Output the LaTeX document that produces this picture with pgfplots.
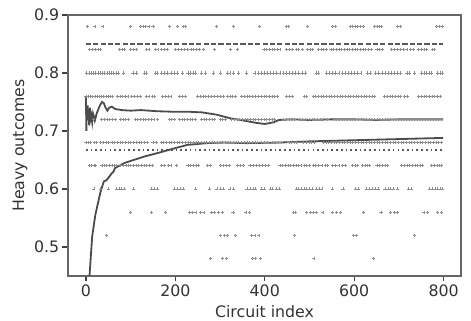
\documentclass[border=0pt]{standalone}
\usepackage{pgfplots}
\pgfplotsset{compat=1.18}
\usepackage{fontspec}
\setmainfont{DejaVu Sans}
\pgfplotsset{dots/.style={only marks, mark=+, mark size=1.1bp, color=black!45, mark options={line width=0.5bp}}}
\begin{document}
\begin{tikzpicture}
\path[use as bounding box] (-49bp,-32.4bp) rectangle (290.2bp,198.7bp);
\begin{axis}[
  scale only axis, width=283bp, height=187.9bp,
  xmin=-40, xmax=839, ymin=0.45, ymax=0.9,
  xtick={0,200,400,600,800}, ytick={0.5,0.6,0.7,0.8,0.9},
  yticklabel style={/pgf/number format/.cd, fixed, precision=1, fixed zerofill},
  /pgf/number format/assume math mode=true,
  tick align=outside, tick pos=left, major tick length=4bp,
  every tick/.style={black!75, line width=0.9bp},
  axis line style={black!60, line width=0.9bp},
  ticklabel style={font=\fontsize{11.4}{13}\selectfont, color=black!80, inner sep=2.2bp},
  xlabel={Circuit index}, ylabel={Heavy outcomes},
  label style={font=\fontsize{11.4}{13}\selectfont, color=black!80, inner sep=0pt},
  xlabel style={at={(axis description cs:0.5,-0.1607)}, anchor=base},
  ylabel style={at={(axis description cs:-0.112,0.5)}, anchor=base},
  clip=true,
]
% discrete heavy-outcome fractions
\addplot[dots] coordinates {(3,0.88)(20,0.88)(38,0.88)(99,0.88)(122,0.88)(128,0.88)(134,0.88)(141,0.88)(150,0.88)(186,0.88)(204,0.88)(219,0.88)(223,0.88)(292,0.88)(330,0.88)(388,0.88)(448,0.88)(452,0.88)(496,0.88)(551,0.88)(558,0.88)(591,0.88)(596,0.88)(603,0.88)(608,0.88)(614,0.88)(620,0.88)(646,0.88)(651,0.88)(656,0.88)(661,0.88)(697,0.88)(703,0.88)(784,0.88)(790,0.88)(797,0.88)};
\addplot[dots] coordinates {(7,0.84)(14,0.84)(20,0.84)(27,0.84)(33,0.84)(75,0.84)(81,0.84)(87,0.84)(100,0.84)(106,0.84)(112,0.84)(136,0.84)(141,0.84)(156,0.84)(161,0.84)(168,0.84)(176,0.84)(182,0.84)(200,0.84)(206,0.84)(214,0.84)(221,0.84)(227,0.84)(235,0.84)(241,0.84)(248,0.84)(254,0.84)(262,0.84)(287,0.84)(323,0.84)(338,0.84)(398,0.84)(404,0.84)(410,0.84)(416,0.84)(422,0.84)(428,0.84)(434,0.84)(449,0.84)(455,0.84)(462,0.84)(470,0.84)(476,0.84)(484,0.84)(495,0.84)(502,0.84)(507,0.84)(520,0.84)(526,0.84)(532,0.84)(538,0.84)(548,0.84)(554,0.84)(560,0.84)(566,0.84)(572,0.84)(578,0.84)(584,0.84)(590,0.84)(596,0.84)(602,0.84)(608,0.84)(614,0.84)(620,0.84)(626,0.84)(632,0.84)(638,0.84)(651,0.84)(657,0.84)(663,0.84)(684,0.84)(690,0.84)(697,0.84)(704,0.84)(710,0.84)(718,0.84)(726,0.84)(732,0.84)(743,0.84)(750,0.84)(757,0.84)(762,0.84)(775,0.84)(779,0.84)};
\addplot[dots] coordinates {(2,0.80)(7,0.80)(12,0.80)(17,0.80)(22,0.80)(27,0.80)(32,0.80)(37,0.80)(42,0.80)(47,0.80)(52,0.80)(57,0.80)(62,0.80)(67,0.80)(72,0.80)(84,0.80)(105,0.80)(112,0.80)(130,0.80)(136,0.80)(155,0.80)(160,0.80)(168,0.80)(175,0.80)(182,0.80)(190,0.80)(197,0.80)(204,0.80)(216,0.80)(228,0.80)(234,0.80)(240,0.80)(245,0.80)(258,0.80)(268,0.80)(285,0.80)(300,0.80)(316,0.80)(322,0.80)(330,0.80)(342,0.80)(359,0.80)(378,0.80)(385,0.80)(392,0.80)(399,0.80)(406,0.80)(413,0.80)(420,0.80)(427,0.80)(434,0.80)(441,0.80)(448,0.80)(455,0.80)(462,0.80)(469,0.80)(476,0.80)(483,0.80)(490,0.80)(515,0.80)(520,0.80)(538,0.80)(545,0.80)(552,0.80)(559,0.80)(566,0.80)(573,0.80)(580,0.80)(587,0.80)(594,0.80)(601,0.80)(608,0.80)(615,0.80)(630,0.80)(637,0.80)(648,0.80)(655,0.80)(662,0.80)(669,0.80)(676,0.80)(683,0.80)(690,0.80)(697,0.80)(704,0.80)(718,0.80)(724,0.80)(734,0.80)(750,0.80)(756,0.80)(762,0.80)(768,0.80)(772,0.80)(786,0.80)(792,0.80)(798,0.80)};
\addplot[dots] coordinates {(0,0.76)(5,0.76)(10,0.76)(15,0.76)(20,0.76)(25,0.76)(30,0.76)(35,0.76)(40,0.76)(45,0.76)(50,0.76)(55,0.76)(60,0.76)(70,0.76)(76,0.76)(82,0.76)(88,0.76)(94,0.76)(102,0.76)(108,0.76)(115,0.76)(122,0.76)(135,0.76)(141,0.76)(148,0.76)(154,0.76)(172,0.76)(178,0.76)(184,0.76)(190,0.76)(209,0.76)(216,0.76)(223,0.76)(250,0.76)(256,0.76)(262,0.76)(268,0.76)(274,0.76)(280,0.76)(287,0.76)(294,0.76)(300,0.76)(307,0.76)(316,0.76)(322,0.76)(328,0.76)(335,0.76)(348,0.76)(354,0.76)(360,0.76)(366,0.76)(372,0.76)(379,0.76)(386,0.76)(392,0.76)(398,0.76)(404,0.76)(410,0.76)(416,0.76)(422,0.76)(428,0.76)(449,0.76)(455,0.76)(462,0.76)(488,0.76)(494,0.76)(508,0.76)(514,0.76)(520,0.76)(526,0.76)(532,0.76)(538,0.76)(544,0.76)(550,0.76)(556,0.76)(562,0.76)(568,0.76)(574,0.76)(580,0.76)(586,0.76)(592,0.76)(598,0.76)(604,0.76)(610,0.76)(616,0.76)(622,0.76)(628,0.76)(634,0.76)(640,0.76)(646,0.76)(668,0.76)(674,0.76)(680,0.76)(686,0.76)(692,0.76)(698,0.76)(704,0.76)(712,0.76)(720,0.76)(744,0.76)(750,0.76)(756,0.76)(762,0.76)(768,0.76)(774,0.76)(780,0.76)(786,0.76)(792,0.76)};
\addplot[dots] coordinates {(17,0.72)(35,0.72)(41,0.72)(47,0.72)(53,0.72)(59,0.72)(65,0.72)(77,0.72)(83,0.72)(89,0.72)(95,0.72)(110,0.72)(116,0.72)(122,0.72)(128,0.72)(134,0.72)(140,0.72)(146,0.72)(152,0.72)(160,0.72)(186,0.72)(192,0.72)(198,0.72)(209,0.72)(215,0.72)(221,0.72)(227,0.72)(233,0.72)(239,0.72)(245,0.72)(258,0.72)(264,0.72)(270,0.72)(276,0.72)(282,0.72)(288,0.72)(300,0.72)(306,0.72)(312,0.72)(326,0.72)(332,0.72)(338,0.72)(344,0.72)(350,0.72)(356,0.72)(362,0.72)(368,0.72)(374,0.72)(380,0.72)(386,0.72)(392,0.72)(398,0.72)(404,0.72)(410,0.72)(416,0.72)(422,0.72)(442,0.72)(448,0.72)(454,0.72)(460,0.72)(466,0.72)(478,0.72)(484,0.72)(490,0.72)(500,0.72)(506,0.72)(512,0.72)(518,0.72)(524,0.72)(530,0.72)(540,0.72)(555,0.72)(561,0.72)(567,0.72)(573,0.72)(579,0.72)(585,0.72)(591,0.72)(597,0.72)(603,0.72)(609,0.72)(615,0.72)(621,0.72)(627,0.72)(633,0.72)(639,0.72)(645,0.72)(651,0.72)(657,0.72)(663,0.72)(669,0.72)(675,0.72)(681,0.72)(687,0.72)(693,0.72)(699,0.72)(705,0.72)(711,0.72)(717,0.72)(723,0.72)(729,0.72)(735,0.72)(741,0.72)(747,0.72)(753,0.72)(759,0.72)(765,0.72)(771,0.72)(777,0.72)(783,0.72)(789,0.72)(795,0.72)};
\addplot[dots] coordinates {(0,0.68)(5,0.68)(10,0.68)(19,0.68)(24,0.68)(33,0.68)(39,0.68)(45,0.68)(51,0.68)(58,0.68)(64,0.68)(70,0.68)(76,0.68)(82,0.68)(88,0.68)(94,0.68)(99,0.68)(107,0.68)(113,0.68)(119,0.68)(125,0.68)(131,0.68)(138,0.68)(150,0.68)(157,0.68)(168,0.68)(174,0.68)(180,0.68)(186,0.68)(192,0.68)(198,0.68)(204,0.68)(210,0.68)(216,0.68)(222,0.68)(228,0.68)(234,0.68)(240,0.68)(246,0.68)(252,0.68)(258,0.68)(264,0.68)(270,0.68)(276,0.68)(282,0.68)(288,0.68)(294,0.68)(300,0.68)(306,0.68)(312,0.68)(318,0.68)(324,0.68)(330,0.68)(336,0.68)(342,0.68)(348,0.68)(354,0.68)(360,0.68)(366,0.68)(372,0.68)(378,0.68)(384,0.68)(392,0.68)(399,0.68)(405,0.68)(417,0.68)(423,0.68)(430,0.68)(437,0.68)(454,0.68)(460,0.68)(466,0.68)(471,0.68)(487,0.68)(493,0.68)(499,0.68)(505,0.68)(511,0.68)(531,0.68)(537,0.68)(543,0.68)(549,0.68)(555,0.68)(561,0.68)(567,0.68)(573,0.68)(579,0.68)(585,0.68)(591,0.68)(597,0.68)(603,0.68)(609,0.68)(615,0.68)(621,0.68)(627,0.68)(633,0.68)(639,0.68)(645,0.68)(651,0.68)(657,0.68)(663,0.68)(669,0.68)(675,0.68)(681,0.68)(687,0.68)(693,0.68)(699,0.68)(705,0.68)(711,0.68)(717,0.68)(723,0.68)(729,0.68)(735,0.68)(741,0.68)(747,0.68)(753,0.68)(759,0.68)(765,0.68)(771,0.68)(777,0.68)(783,0.68)(789,0.68)(795,0.68)};
\addplot[dots] coordinates {(7,0.64)(12,0.64)(18,0.64)(22,0.64)(36,0.64)(42,0.64)(46,0.64)(52,0.64)(58,0.64)(63,0.64)(68,0.64)(78,0.64)(84,0.64)(90,0.64)(95,0.64)(100,0.64)(106,0.64)(112,0.64)(118,0.64)(124,0.64)(131,0.64)(136,0.64)(142,0.64)(149,0.64)(168,0.64)(175,0.64)(184,0.64)(190,0.64)(202,0.64)(228,0.64)(234,0.64)(240,0.64)(246,0.64)(252,0.64)(272,0.64)(278,0.64)(301,0.64)(307,0.64)(313,0.64)(320,0.64)(338,0.64)(345,0.64)(352,0.64)(367,0.64)(374,0.64)(381,0.64)(388,0.64)(395,0.64)(402,0.64)(409,0.64)(434,0.64)(440,0.64)(446,0.64)(452,0.64)(458,0.64)(464,0.64)(470,0.64)(476,0.64)(481,0.64)(488,0.64)(494,0.64)(500,0.64)(508,0.64)(514,0.64)(521,0.64)(528,0.64)(535,0.64)(541,0.64)(552,0.64)(559,0.64)(566,0.64)(573,0.64)(581,0.64)(596,0.64)(602,0.64)(608,0.64)(618,0.64)(624,0.64)(630,0.64)(635,0.64)(651,0.64)(657,0.64)(663,0.64)(669,0.64)(675,0.64)(706,0.64)(712,0.64)(718,0.64)(724,0.64)(730,0.64)(736,0.64)(742,0.64)(748,0.64)(752,0.64)(773,0.64)(779,0.64)(785,0.64)(791,0.64)(795,0.64)};
\addplot[dots] coordinates {(18,0.60)(33,0.60)(51,0.60)(68,0.60)(74,0.60)(80,0.60)(87,0.60)(106,0.60)(146,0.60)(153,0.60)(160,0.60)(198,0.60)(205,0.60)(212,0.60)(219,0.60)(245,0.60)(276,0.60)(293,0.60)(300,0.60)(308,0.60)(322,0.60)(330,0.60)(360,0.60)(367,0.60)(374,0.60)(380,0.60)(393,0.60)(399,0.60)(412,0.60)(418,0.60)(427,0.60)(432,0.60)(470,0.60)(476,0.60)(482,0.60)(488,0.60)(494,0.60)(500,0.60)(506,0.60)(516,0.60)(522,0.60)(528,0.60)(552,0.60)(575,0.60)(603,0.60)(609,0.60)(627,0.60)(635,0.60)(641,0.60)(648,0.60)(654,0.60)(669,0.60)(676,0.60)(682,0.60)(688,0.60)(697,0.60)(722,0.60)(728,0.60)(769,0.60)(775,0.60)(781,0.60)(787,0.60)(793,0.60)(798,0.60)};
\addplot[dots] coordinates {(99,0.56)(146,0.56)(177,0.56)(231,0.56)(238,0.56)(246,0.56)(256,0.56)(264,0.56)(280,0.56)(288,0.56)(296,0.56)(305,0.56)(329,0.56)(358,0.56)(366,0.56)(464,0.56)(469,0.56)(494,0.56)(502,0.56)(509,0.56)(516,0.56)(530,0.56)(551,0.56)(560,0.56)(570,0.56)(621,0.56)(660,0.56)(682,0.56)(690,0.56)(697,0.56)(756,0.56)(763,0.56)(786,0.56)(795,0.56)};
\addplot[dots] coordinates {(45,0.52)(301,0.52)(309,0.52)(316,0.52)(334,0.52)(371,0.52)(378,0.52)(387,0.52)(466,0.52)(598,0.52)(605,0.52)(735,0.52)};
\addplot[dots] coordinates {(278,0.48)(305,0.48)(314,0.48)(372,0.48)(379,0.48)(390,0.48)(510,0.48)(643,0.48)};
% reference levels
\addplot[black!65, line width=1bp, dash pattern=on 3.7bp off 1.6bp] coordinates {(0,0.85)(799,0.85)};
\addplot[black!65, line width=1bp, dash pattern=on 1.2bp off 2.2bp] coordinates {(0,0.667)(799,0.667)};
% running mean
\addplot[black!70, line width=1.3bp] coordinates {(0,0.76)(1,0.70)(2,0.733)(3,0.73)(4,0.744)(5,0.72)(6,0.737)(7,0.71)(8,0.725)(9,0.74)(10,0.72)(12,0.727)(14,0.715)(16,0.73)(18,0.725)(20,0.718)(24,0.73)(28,0.738)(32,0.745)(36,0.75)(40,0.748)(44,0.74)(48,0.735)(52,0.74)(58,0.742)(65,0.738)(80,0.736)(100,0.735)(123,0.736)(160,0.734)(200,0.733)(234,0.733)(260,0.732)(293,0.728)(322,0.722)(352,0.718)(381,0.714)(400,0.712)(420,0.715)(432,0.719)(460,0.72)(500,0.719)(550,0.72)(600,0.72)(650,0.719)(700,0.72)(750,0.72)(799,0.72)};
% lower bound
\addplot[black!70, line width=1.3bp] coordinates {(6,0.40)(8,0.45)(14,0.518)(21,0.555)(32,0.593)(40,0.613)(46,0.615)(58,0.627)(62,0.63)(65,0.636)(87,0.645)(131,0.656)(161,0.662)(198,0.670)(227,0.676)(271,0.679)(308,0.680)(360,0.679)(432,0.680)(500,0.682)(600,0.684)(700,0.686)(799,0.688)};
\end{axis}
\end{tikzpicture}
\end{document}
